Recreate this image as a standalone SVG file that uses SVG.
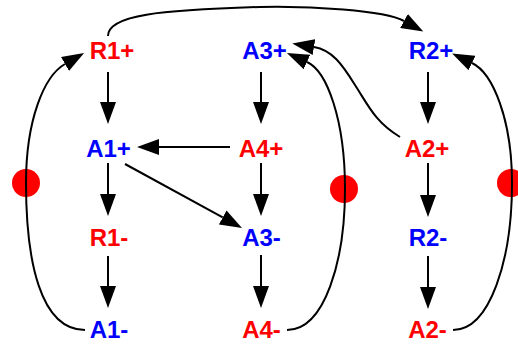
<svg xmlns="http://www.w3.org/2000/svg" width="518" height="345" viewBox="0 0 518 345">
<style>
  .lbl { font-family: "Liberation Sans", Arial, sans-serif; font-weight: bold; font-size: 24px; text-anchor: middle; }
  .r { fill: #ff0000; }
  .b { fill: #0000ff; }
  .e { fill: none; stroke: #000; stroke-width: 2; marker-end: url(#ah); }
  .ne { fill: none; stroke: #000; stroke-width: 2; }
  .dot { fill: #ff0000; }
</style>
<defs>
  <marker id="ah" viewBox="0 0 22 16" markerWidth="22" markerHeight="16" refX="0" refY="8" orient="auto" markerUnits="userSpaceOnUse">
    <path d="M0,0 L22,8 L0,16 z" fill="#000"/>
  </marker>
</defs>
<rect width="518" height="345" fill="#fff"/>
<g id="markers">
  <circle class="dot" cx="26" cy="183" r="14"/>
  <circle class="dot" cx="344" cy="189" r="14"/>
  <circle class="dot" cx="511" cy="183" r="14"/>
</g>
<g id="connectors">
  <path class="e" d="M108,72 L108,102"/>
  <path class="e" d="M108,163 L108,194"/>
  <path class="e" d="M108,256 L108,286"/>
  <path class="e" d="M261,72 L261,102"/>
  <path class="e" d="M261,163 L261,194"/>
  <path class="e" d="M261,255 L261,286"/>
  <path class="e" d="M428,72 L428,102"/>
  <path class="e" d="M428,163 L428,195"/>
  <path class="e" d="M428,256 L428,287"/>
  <path class="e" d="M230,147 L159,147"/>
  <path class="e" d="M125,164 L222.7,217.4"/>
  <path class="e" d="M108,36 C108,15 160,10 260,7 C310,6 384,10 404,21"/>
  <path class="e" d="M85,330 C40,330 26,260 26,183 C26,120 44,76 65,64"/>
  <path class="e" d="M287,330 C325,330 345,260 345,189 C345,120 327,71 307,62"/>
  <path class="e" d="M400,137 C375,122 368,105 355,85 C342,64 332,50 314,47"/>
  <path class="e" d="M453,330 C490,330 512,260 512,183 C512,120 493,73 472,63"/>
</g>
<g id="R1p"><text class="lbl r" x="112" y="59">R1+</text></g>
<g id="A3p"><text class="lbl b" x="264.5" y="59">A3+</text></g>
<g id="R2p"><text class="lbl b" x="431" y="59">R2+</text></g>
<g id="A1p"><text class="lbl b" x="108.5" y="157">A1+</text></g>
<g id="A4p"><text class="lbl r" x="261" y="157">A4+</text></g>
<g id="A2p"><text class="lbl r" x="427" y="157">A2+</text></g>
<g id="R1m"><text class="lbl r" x="109" y="246">R1-</text></g>
<g id="A3m"><text class="lbl b" x="261.5" y="246">A3-</text></g>
<g id="R2m"><text class="lbl b" x="428" y="246">R2-</text></g>
<g id="A1m"><text class="lbl b" x="109" y="338">A1-</text></g>
<g id="A4m"><text class="lbl r" x="261.5" y="338">A4-</text></g>
<g id="A2m"><text class="lbl r" x="427.5" y="338">A2-</text></g>
</svg>
